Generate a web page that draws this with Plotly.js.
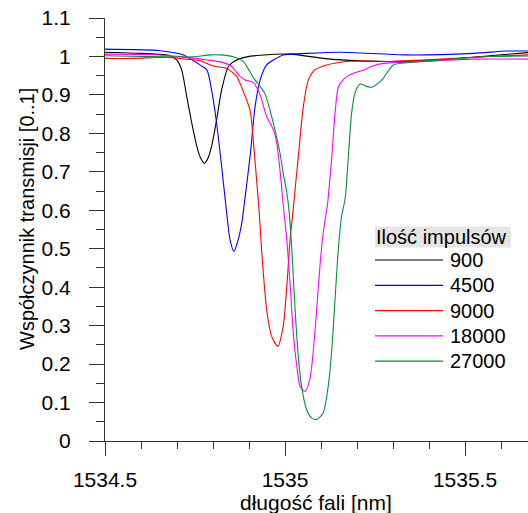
<!DOCTYPE html>
<html>
<head>
<meta charset="utf-8">
<script src="https://cdn.plot.ly/plotly-3.0.1.min.js"></script>
<style>html,body{margin:0;padding:0;background:#fff;}#chart{width:528px;height:513px;}</style>
</head>
<body>
<div id="chart"></div>
<script>
// ---- data ----
const seriesNames = ["900", "4500", "9000", "18000", "27000"];
const legendTitle = "Ilość impulsów";
const xTitle = "długość fali [nm]";
const yTitle = "Współczynnik transmisji [0..1]";

const x900 = [1534.500,1534.600,1534.681,1534.699,1534.713,1534.727,1534.741,1534.755,1534.766,1534.776,1534.786,1534.796,1534.810,1534.824,1534.843,1534.866,1534.894,1534.931,1535.014,1535.106,1535.153,1535.292,1535.431,1535.569,1535.675];
const y900 = [1.011,1.008,1.002,0.991,0.965,0.896,0.827,0.766,0.735,0.722,0.735,0.766,0.835,0.913,0.974,0.991,0.999,1.003,1.006,0.995,0.991,0.987,0.991,1.002,1.010];

const x4500 = [1534.500,1534.653,1534.718,1534.764,1534.783,1534.796,1534.810,1534.824,1534.838,1534.847,1534.858,1534.869,1534.880,1534.886,1534.903,1534.917,1534.931,1534.949,1534.968,1534.995,1535.060,1535.153,1535.338,1535.523,1535.616,1535.675];
const y4500 = [1.019,1.015,1.004,0.978,0.965,0.913,0.827,0.714,0.593,0.525,0.493,0.520,0.567,0.610,0.740,0.870,0.939,0.978,0.991,1.004,1.008,1.011,1.004,1.008,1.014,1.014];

const x9000 = [1534.500,1534.578,1534.671,1534.727,1534.764,1534.801,1534.838,1534.866,1534.875,1534.903,1534.912,1534.921,1534.928,1534.935,1534.949,1534.963,1534.980,1534.995,1535.005,1535.014,1535.023,1535.037,1535.051,1535.065,1535.083,1535.116,1535.171,1535.236,1535.292,1535.431,1535.569,1535.675];
const y9000 = [0.995,0.995,0.998,0.993,0.989,0.975,0.969,0.948,0.930,0.860,0.780,0.680,0.600,0.497,0.342,0.272,0.246,0.298,0.402,0.523,0.605,0.740,0.870,0.939,0.965,0.978,0.987,0.988,0.987,0.993,1.000,1.004];

const x18000 = [1534.500,1534.625,1534.718,1534.783,1534.829,1534.852,1534.875,1534.889,1534.912,1534.931,1534.949,1534.968,1534.977,1534.986,1534.995,1535.005,1535.014,1535.023,1535.033,1535.042,1535.056,1535.069,1535.079,1535.088,1535.097,1535.106,1535.118,1535.130,1535.139,1535.148,1535.162,1535.190,1535.217,1535.245,1535.273,1535.384,1535.523,1535.675];
const y18000 = [1.006,1.005,0.999,0.991,0.984,0.974,0.948,0.939,0.932,0.900,0.844,0.809,0.775,0.705,0.615,0.523,0.411,0.281,0.194,0.142,0.129,0.160,0.238,0.342,0.454,0.541,0.615,0.740,0.852,0.920,0.940,0.956,0.964,0.976,0.982,0.987,0.993,0.993];

const x27000 = [1534.500,1534.671,1534.745,1534.792,1534.819,1534.856,1534.884,1534.894,1534.912,1534.931,1534.944,1534.958,1534.972,1534.986,1534.995,1535.005,1535.011,1535.019,1535.028,1535.037,1535.046,1535.060,1535.074,1535.088,1535.106,1535.120,1535.130,1535.139,1535.148,1535.157,1535.167,1535.176,1535.185,1535.194,1535.208,1535.227,1535.241,1535.269,1535.301,1535.338,1535.431,1535.569,1535.675];
const y27000 = [1.002,0.999,0.999,1.004,1.004,0.999,0.987,0.974,0.945,0.922,0.904,0.861,0.809,0.749,0.697,0.645,0.601,0.497,0.342,0.220,0.142,0.082,0.060,0.056,0.073,0.142,0.238,0.368,0.497,0.584,0.630,0.740,0.852,0.904,0.928,0.922,0.920,0.939,0.978,0.984,0.991,1.000,1.001];

const xs = [x900, x4500, x9000, x18000, x27000];
const ys = [y900, y4500, y9000, y18000, y27000];
const colors = ["#000000", "#0000ff", "#ff0000", "#ff00ff", "#00923a"];

// ---- build chart ----
const FONT = "Liberation Sans, Arial, sans-serif";
const traces = seriesNames.map((n, i) => ({
  type: "scatter", mode: "lines", name: n,
  x: xs[i], y: ys[i],
  line: {color: colors[i], width: 1.1, shape: "spline", smoothing: 0.7},
  showlegend: false, hoverinfo: "skip"
}));

// manual legend and axis titles (pixel geometry -> paper coords)
const plotL = 105, plotT = 18, plotW = 423, plotH = 423;
const px = v => (v - plotL) / plotW;
const py = v => (plotT + plotH - v) / plotH;
const shapes = [{
  type: "rect", xref: "paper", yref: "paper",
  x0: px(375), x1: px(511), y0: py(247.5), y1: py(226.5),
  fillcolor: "#e5e5e5", line: {width: 0}, layer: "above"
}];
const annotations = [{
  xref: "paper", yref: "paper", x: px(374), y: py(237), xanchor: "left", yanchor: "middle",
  text: legendTitle, showarrow: false, font: {family: FONT, size: 20, color: "#000"}
}, {
  xref: "paper", yref: "paper", x: px(27), y: py(219), xanchor: "center", yanchor: "middle",
  text: yTitle, textangle: -90, showarrow: false, font: {family: FONT, size: 20, color: "#000"}
}, {
  xref: "paper", yref: "paper", x: px(316), y: py(502), xanchor: "center", yanchor: "middle",
  text: xTitle, showarrow: false, font: {family: FONT, size: 21, color: "#000"}
}];
seriesNames.forEach((n, i) => {
  const yc = 260 + i * 25.3;
  shapes.push({type: "line", xref: "paper", yref: "paper", x0: px(375), x1: px(443), y0: py(yc), y1: py(yc),
    line: {color: colors[i], width: 1.2}});
  annotations.push({xref: "paper", yref: "paper", x: px(448), y: py(yc), xanchor: "left", yanchor: "middle",
    text: n, showarrow: false, font: {family: FONT, size: 20, color: "#000"}});
});

const layout = {
  width: 528, height: 513,
  margin: {l: 105, r: 0, t: 18, b: 72, pad: 0},
  paper_bgcolor: "#fff", plot_bgcolor: "#fff",
  font: {family: FONT, size: 21, color: "#000"},
  showlegend: false,
  xaxis: {
    range: [1534.5, 1535.675], tick0: 1534.5, dtick: 0.5, tickformat: ".1~f",
    ticks: "outside", ticklen: 14, tickwidth: 1, tickcolor: "#333",
    showline: true, linecolor: "#333", linewidth: 1, showgrid: false, zeroline: false,
    minor: {dtick: 0.1, tick0: 1534.5, ticks: "outside", ticklen: 7, tickcolor: "#333", showgrid: false},
    tickfont: {family: FONT, size: 21, color: "#000"},
    ticklabelstandoff: 6,
    fixedrange: true
  },
  yaxis: {
    range: [0, 1.1], tick0: 0, dtick: 0.1, tickformat: ".1~f",
    ticks: "outside", ticklen: 15, tickwidth: 1, tickcolor: "#333",
    showline: true, linecolor: "#333", linewidth: 1, showgrid: false, zeroline: false,
    minor: {dtick: 0.05, tick0: 0, ticks: "outside", ticklen: 8, tickcolor: "#333", showgrid: false},
    tickfont: {family: FONT, size: 21, color: "#000"},
    ticklabelstandoff: 14,
    fixedrange: true
  },
  shapes: shapes,
  annotations: annotations
};

Plotly.newPlot("chart", traces, layout, {staticPlot: true, displayModeBar: false});
</script>
</body>
</html>
